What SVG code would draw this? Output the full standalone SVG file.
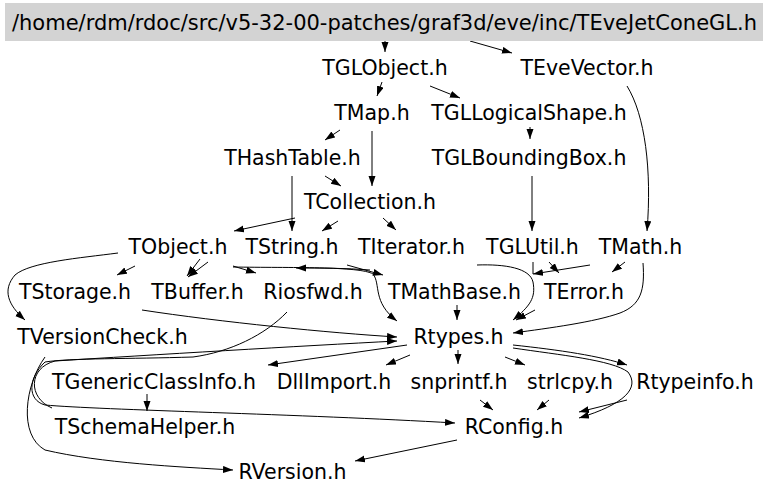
<svg xmlns="http://www.w3.org/2000/svg" width="768" height="496" viewBox="0 0 768 496">
<style>
text{font-family:"DejaVu Sans","Liberation Sans",sans-serif;font-size:20.5px;fill:#000;text-anchor:middle}
.e{fill:none;stroke:#000;stroke-width:1}
.a{marker-end:url(#ah)}
</style>
<defs>
<marker id="ah" markerUnits="userSpaceOnUse" markerWidth="11" markerHeight="8" refX="10" refY="3.5" orient="auto">
<path d="M0,0 L10,3.5 L0,7 z" fill="#000"/>
</marker>
</defs>
<rect width="768" height="496" fill="#fff"/>
<g id="connectors">
<path class="e a" d="M385,41 L385,52"/>
<path class="e a" d="M470,41 L512,53"/>
<path class="e a" d="M382,82 L377,96"/>
<path class="e a" d="M430,86 L460,98"/>
<path class="e a" d="M627,86 C645,115 652,170 647,231"/>
<path class="e a" d="M340,130 L325,140"/>
<path class="e a" d="M372,131 L372,186"/>
<path class="e a" d="M530,127 L530,139"/>
<path class="e a" d="M325,176 L341,186"/>
<path class="e a" d="M292,176 L292,231"/>
<path class="e a" d="M532,176 L532,231"/>
<path class="e a" d="M295,218 L234,231"/>
<path class="e a" d="M338,221 L322,231"/>
<path class="e a" d="M383,218 L396,230"/>
<path class="e a" d="M135,266 L117,275"/>
<path class="e a" d="M118,253 C80,258 30,262 15,275 C2,290 8,305 25,320"/>
<path class="e a" d="M200,259 L187,276"/>
<path class="e a" d="M208,262 L188,277"/>
<path class="e a" d="M233,266 L256,273"/>
<path class="e a" d="M233,267 C290,268 360,266 373,274 C381,284 372,302 397,321"/>
<path class="e a" d="M370,270 C345,268 320,268 296,268"/>
<path class="e a" d="M347,265 L383,275"/>
<path class="e a" d="M477,265 C505,264 530,268 533,282 C536,298 530,306 513,320"/>
<path class="e" d="M533,262 L533,274"/>
<path class="e a" d="M590,265 L533,274"/>
<path class="e a" d="M549,262 L559,273"/>
<path class="e a" d="M625,262 L612,272"/>
<path class="e a" d="M535,310 L516,320"/>
<path class="e a" d="M643,263 C645,290 641,305 620,313 C595,322 550,328 513,333"/>
<path class="e a" d="M457,305 L457,320"/>
<path class="e a" d="M142,310 C220,322 330,333 397,337"/>
<path class="e a" d="M52,408 C28,398 28,368 55,361 C150,355 300,346 397,341"/>
<path class="e" d="M287,312 C265,335 230,352 193,357"/>
<path class="e a" d="M193,357 C130,359 70,358 45,362 C28,378 27,400 45,405 C100,410 300,414 455,423"/>
<path class="e a" d="M45,357 C25,385 18,435 45,450 C100,463 180,467 233,470"/>
<path class="e a" d="M407,345 L268,365"/>
<path class="e a" d="M410,355 L386,365"/>
<path class="e a" d="M458,350 L458,364"/>
<path class="e a" d="M505,357 L525,365"/>
<path class="e a" d="M513,345 C560,350 600,356 627,365"/>
<path class="e a" d="M513,348 C560,355 612,360 628,372 C640,388 625,404 579,418"/>
<path class="e a" d="M627,400 L579,412"/>
<path class="e a" d="M480,400 L493,410"/>
<path class="e a" d="M549,400 L537,410"/>
<path class="e a" d="M147,394 L147,411"/>
<path class="e a" d="M457,440 L355,461"/>
</g>
<g id="root"><rect x="5" y="3" width="758" height="38" fill="#d3d3d3"/><text x="384.5" y="30" textLength="745" lengthAdjust="spacingAndGlyphs">/home/rdm/rdoc/src/v5-32-00-patches/graf3d/eve/inc/TEveJetConeGL.h</text></g>
<g id="TGLObject"><text x="385" y="75">TGLObject.h</text></g>
<g id="TEveVector"><text x="587" y="75">TEveVector.h</text></g>
<g id="TMap"><text x="372" y="120">TMap.h</text></g>
<g id="TGLLogicalShape"><text x="529" y="120">TGLLogicalShape.h</text></g>
<g id="THashTable"><text x="292.5" y="164.5">THashTable.h</text></g>
<g id="TGLBoundingBox"><text x="529" y="164.5">TGLBoundingBox.h</text></g>
<g id="TCollection"><text x="370" y="209">TCollection.h</text></g>
<g id="TObject"><text x="178" y="254">TObject.h</text></g>
<g id="TString"><text x="292" y="254">TString.h</text></g>
<g id="TIterator"><text x="411.5" y="254">TIterator.h</text></g>
<g id="TGLUtil"><text x="532.5" y="254">TGLUtil.h</text></g>
<g id="TMath"><text x="640.5" y="254">TMath.h</text></g>
<g id="TStorage"><text x="75" y="298.5">TStorage.h</text></g>
<g id="TBuffer"><text x="197.5" y="298.5">TBuffer.h</text></g>
<g id="Riosfwd"><text x="313" y="298.5">Riosfwd.h</text></g>
<g id="TMathBase"><text x="454.5" y="298.5">TMathBase.h</text></g>
<g id="TError"><text x="584" y="298.5">TError.h</text></g>
<g id="TVersionCheck"><text x="102.5" y="344">TVersionCheck.h</text></g>
<g id="Rtypes"><text x="458.5" y="344">Rtypes.h</text></g>
<g id="TGenericClassInfo"><text x="154" y="389">TGenericClassInfo.h</text></g>
<g id="DllImport"><text x="334" y="389">DllImport.h</text></g>
<g id="snprintf"><text x="459" y="389">snprintf.h</text></g>
<g id="strlcpy"><text x="570" y="389">strlcpy.h</text></g>
<g id="Rtypeinfo"><text x="695" y="389">Rtypeinfo.h</text></g>
<g id="TSchemaHelper"><text x="145" y="434">TSchemaHelper.h</text></g>
<g id="RConfig"><text x="514" y="434">RConfig.h</text></g>
<g id="RVersion"><text x="292.5" y="479">RVersion.h</text></g>
</svg>
